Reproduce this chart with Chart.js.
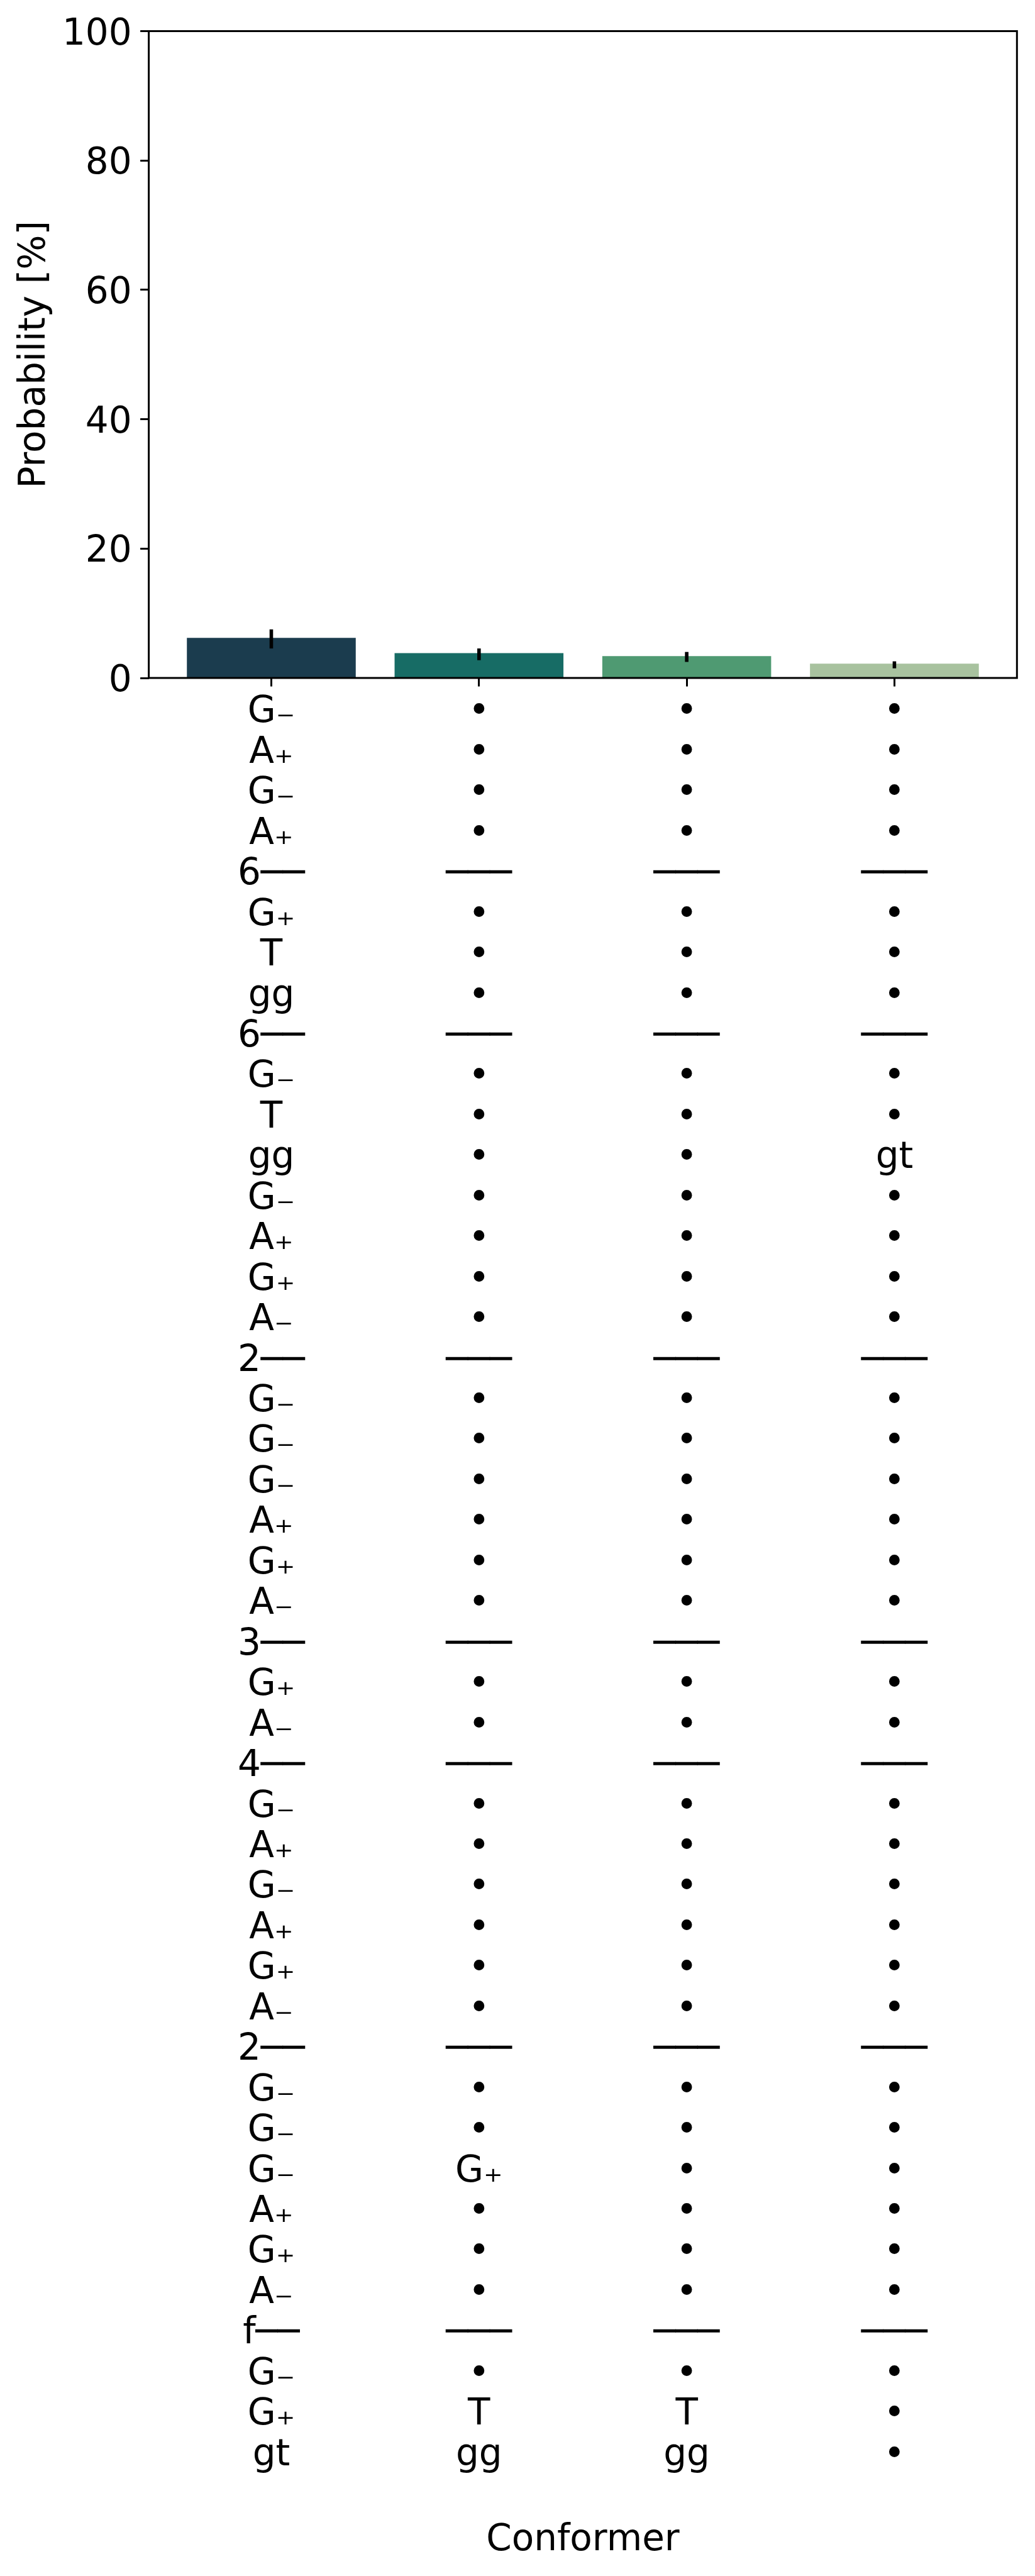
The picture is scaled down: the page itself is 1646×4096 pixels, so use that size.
<!DOCTYPE html>
<html>
<head>
<meta charset="utf-8">
<script src="https://cdn.jsdelivr.net/npm/chart.js@4.4.1/dist/chart.umd.min.js"></script>
<style>
html, body { margin: 0; padding: 0; background: #ffffff; }
canvas { display: block; }
</style>
</head>
<body>
<canvas id="chart" width="1646" height="4096"></canvas>
<script>
// ---------------- data ----------------
const conformerIndex = [0, 1, 2, 3];
const probability = [6.21, 3.84, 3.38, 2.21];
const errorLow = [4.56, 2.75, 2.48, 1.49];
const errorHigh = [7.51, 4.56, 4.02, 2.57];
const barColors = ['#1b3c4e', '#176c65', '#4f9a72', '#a8c29f'];
const yTickValues = [0, 20, 40, 60, 80, 100];

const labelConformer1 = ['G₋','A₊','G₋','A₊','6──','G₊','T','gg','6──','G₋','T','gg','G₋','A₊','G₊','A₋','2──','G₋','G₋','G₋','A₊','G₊','A₋','3──','G₊','A₋','4──','G₋','A₊','G₋','A₊','G₊','A₋','2──','G₋','G₋','G₋','A₊','G₊','A₋','f──','G₋','G₊','gt'];
const labelConformer2 = ['•','•','•','•','───','•','•','•','───','•','•','•','•','•','•','•','───','•','•','•','•','•','•','───','•','•','───','•','•','•','•','•','•','───','•','•','G₊','•','•','•','───','•','T','gg'];
const labelConformer3 = ['•','•','•','•','───','•','•','•','───','•','•','•','•','•','•','•','───','•','•','•','•','•','•','───','•','•','───','•','•','•','•','•','•','───','•','•','•','•','•','•','───','•','T','gg'];
const labelConformer4 = ['•','•','•','•','───','•','•','•','───','•','•','gt','•','•','•','•','───','•','•','•','•','•','•','───','•','•','───','•','•','•','•','•','•','───','•','•','•','•','•','•','───','•','•','•'];
const tickLabels = [labelConformer1, labelConformer2, labelConformer3, labelConformer4];

const xTitle = 'Conformer';
const yTitle = 'Probability [%]';

// ---------------- styles / layout ----------------
const FONT = 'DejaVu Sans';
const FS = 58;
const LINE_W = 3;
const TICK_LEN = 13.5;
const Y_AXIS_WIDTH = 236.6;
const X_AXIS_HEIGHT = 4096 - 1078;

const spinesAndErrors = {
  id: 'spinesAndErrors',
  afterDatasetsDraw(chart) {
    const ctx = chart.ctx;
    const xs = chart.scales.x, ys = chart.scales.y;
    ctx.save();
    ctx.strokeStyle = '#000000';
    ctx.lineCap = 'butt';
    ctx.lineWidth = 5.6;
    conformerIndex.forEach((c, i) => {
      const px = xs.getPixelForValue(c);
      ctx.beginPath();
      ctx.moveTo(px, ys.getPixelForValue(errorLow[i]));
      ctx.lineTo(px, ys.getPixelForValue(errorHigh[i]));
      ctx.stroke();
    });
    const a = chart.chartArea;
    ctx.lineWidth = LINE_W;
    ctx.lineJoin = 'miter';
    ctx.strokeRect(a.left, a.top, a.right - a.left, a.bottom - a.top);
    ctx.restore();
  }
};

new Chart(document.getElementById('chart'), {
  type: 'bar',
  data: {
    datasets: [{
      data: conformerIndex.map((c, i) => ({ x: c, y: probability[i] })),
      backgroundColor: barColors,
      borderWidth: 0,
      barPercentage: 0.813,
      categoryPercentage: 1.0
    }]
  },
  options: {
    responsive: false,
    animation: false,
    devicePixelRatio: 1,
    layout: { padding: { top: 49.5, right: 28.7, bottom: 0, left: 0 } },
    plugins: { legend: { display: false }, tooltip: { enabled: false } },
    scales: {
      x: {
        type: 'linear',
        min: -0.59,
        max: 3.59,
        offset: false,
        afterBuildTicks: (s) => { s.ticks = conformerIndex.map(v => ({ value: v })); },
        afterFit: (s) => { s.height = X_AXIS_HEIGHT; },
        grid: { display: true, drawOnChartArea: false, drawTicks: true, tickLength: TICK_LEN, tickWidth: LINE_W, tickColor: '#000000', offset: false },
        border: { display: false },
        ticks: {
          autoSkip: false,
          maxRotation: 0,
          minRotation: 0,
          padding: 9.6,
          color: '#000000',
          font: { family: FONT, size: FS, lineHeight: 1.1112 },
          callback: (v) => tickLabels[v]
        },
        title: {
          display: true,
          text: xTitle,
          color: '#000000',
          font: { family: FONT, size: FS, lineHeight: 1.2 },
          padding: { top: 0, bottom: 20.9 }
        }
      },
      y: {
        type: 'linear',
        min: 0,
        max: 100,
        afterBuildTicks: (s) => { s.ticks = yTickValues.map(v => ({ value: v })); },
        afterFit: (s) => { s.width = Y_AXIS_WIDTH; },
        grid: { display: true, drawOnChartArea: false, drawTicks: true, tickLength: TICK_LEN, tickWidth: LINE_W, tickColor: '#000000' },
        border: { display: false },
        ticks: {
          padding: 13.5,
          labelOffset: 6,
          color: '#000000',
          font: { family: FONT, size: FS, lineHeight: 1.2 }
        },
        title: {
          display: true,
          text: yTitle,
          color: '#000000',
          font: { family: FONT, size: FS, lineHeight: 1.2 },
          padding: { top: 21.6, bottom: 0 }
        }
      }
    }
  },
  plugins: [spinesAndErrors]
});
</script>
</body>
</html>
